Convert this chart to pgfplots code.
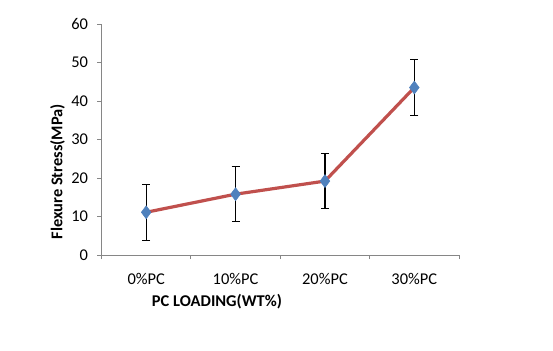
\documentclass[border=0pt]{standalone}
\usepackage{fontspec}
\setmainfont{Carlito}
\usepackage{pgfplots}
\pgfplotsset{compat=1.18}

\definecolor{linered}{HTML}{C0504D}
\definecolor{markblue}{HTML}{4F81BD}
\definecolor{axisgray}{HTML}{868686}

\begin{document}
\begin{tikzpicture}[x=1bp,y=1bp]
\useasboundingbox (-101.5,-95) rectangle (451.5,255);
\begin{axis}[
    at={(0,0)}, anchor=south west,
    scale only axis,
    width=357.5bp, height=231bp,
    xmin=0, xmax=4,
    ymin=0, ymax=60,
    ytick={0,10,...,60},
    xtick={0.5,1.5,2.5,3.5},
    xticklabels={0\%PC,10\%PC,20\%PC,30\%PC},
    minor xtick={0,1,2,3,4},
    axis x line*=bottom,
    axis y line*=left,
    axis line style={axisgray, line width=1bp, -},
    major x tick style={draw=none},
    minor x tick style={axisgray, line width=1bp},
    major y tick style={axisgray, line width=1bp},
    tick align=outside,
    major tick length=4bp, minor tick length=4bp,
    /pgf/number format/assume math mode=true,
    tick label style={font=\fontsize{16.5}{19}\selectfont, text=black},
    yticklabel style={xshift=-6bp},
    xticklabel style={yshift=-11bp},
    xlabel={PC LOADING(WT\%)},
    ylabel={Flexure Stress(MPa)},
    label style={font=\bfseries\fontsize{16.5}{19}\selectfont},
    xlabel style={at={(rel axis cs:0.323,0)}, anchor=north, yshift=-36bp},
    ylabel style={at={(rel axis cs:0,0.36)}, anchor=south, yshift=33bp},
    clip=false,
]
% error bars first so the markers sit on top
\addplot[
    draw=none, mark=none, forget plot,
    error bars/.cd, y dir=both, y explicit,
    error bar style={black, line width=1.2bp},
    error mark options={rotate=90, black, mark size=4bp, line width=1.2bp},
] coordinates {
    (0.5,11.1) +- (0,7.3)
    (1.5,15.8) +- (0,7.2)
    (2.5,19.2) +- (0,7.2)
    (3.5,43.5) +- (0,7.2)
};
\addplot[
    color=linered, line width=3.2bp,
    mark=diamond*, mark size=6.5bp,
    mark options={fill=markblue, draw=markblue, line width=0.5bp},
] coordinates {
    (0.5,11.1)
    (1.5,15.8)
    (2.5,19.2)
    (3.5,43.5)
};
\end{axis}
\end{tikzpicture}
\end{document}
